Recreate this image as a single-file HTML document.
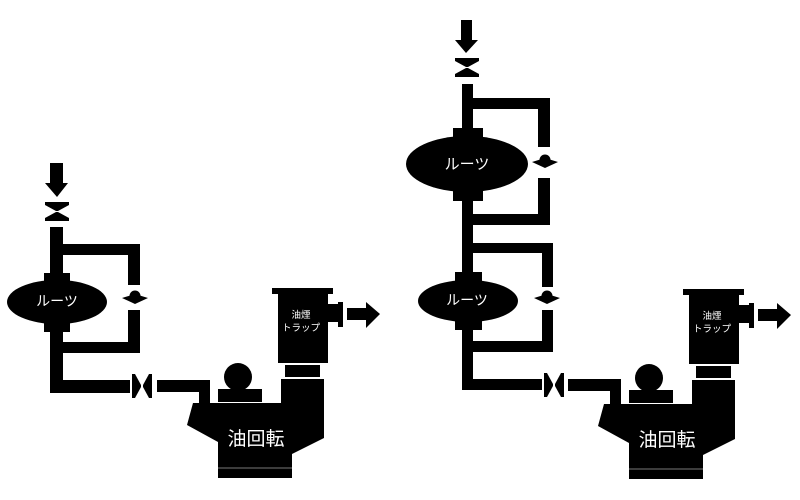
<!DOCTYPE html>
<html><head><meta charset="utf-8"><style>
html,body{margin:0;padding:0;background:#fff;width:800px;height:500px;overflow:hidden}
svg text{font-family:"Liberation Sans","Noto Sans CJK JP",sans-serif;fill:#fff;text-anchor:middle}
</style></head><body>
<svg width="800" height="500" viewBox="0 0 800 500" xmlns="http://www.w3.org/2000/svg">
<defs>
<g id="check"><circle cx="0" cy="-1" r="5.5" fill="#000"/><polygon points="-13,1 0,-3 13,1 0,7" fill="#000"/></g>
<g id="vvalve"><polygon points="-12,0 12,0 12,3 1,9 -1,9 -12,3" fill="#000"/><polygon points="-12,19 12,19 12,16 1,10 -1,10 -12,16" fill="#000"/></g>
<g id="hvalve"><polygon points="0,-12 0,12 3,12 9,1 9,-1 3,-12" fill="#000"/><polygon points="20,-12 20,12 17,12 11,1 11,-1 17,-12" fill="#000"/></g>
<g id="motor">
 <rect x="199" y="380" width="11" height="25" fill="#000"/>
 <circle cx="238" cy="377" r="14" fill="#000"/>
 <rect x="218" y="389" width="44" height="13" fill="#000"/>
 <rect x="285" y="365" width="35" height="12" fill="#000"/>
 <polygon points="193,403 281,403 281,379 324,379 324,438 292,454 292,478 218,478 218,442 187,425" fill="#000"/>
 <line x1="218" y1="468" x2="292" y2="468" stroke="#777" stroke-width="1"/>
 <text x="256" y="445" font-size="19">油回転</text>
 <rect x="272" y="288" width="61" height="6" fill="#000"/>
 <rect x="278" y="293" width="50" height="70" fill="#000"/>
 <rect x="327" y="304" width="13" height="18" fill="#000"/>
 <rect x="338" y="302" width="5" height="25" fill="#000"/>
 <rect x="347" y="308" width="20" height="12" fill="#000"/>
 <polygon points="366,302 380,314 366,328" fill="#000"/>
 <text x="301" y="318" font-size="9.5">油煙</text>
 <text x="301" y="331" font-size="9.5">トラップ</text>
</g>
</defs>

<!-- LEFT -->
<rect x="50" y="163" width="13" height="22" fill="#000"/>
<polygon points="45,183 68,183 57,197" fill="#000"/>
<use href="#vvalve" x="57" y="202"/>
<rect x="50" y="227" width="13" height="50" fill="#000"/>
<rect x="63" y="244" width="77" height="11" fill="#000"/>
<rect x="128" y="244" width="12" height="41" fill="#000"/>
<use href="#check" x="135" y="297"/>
<rect x="128" y="310" width="12" height="43" fill="#000"/>
<rect x="50" y="342" width="90" height="11" fill="#000"/>
<rect x="44" y="273" width="26" height="10" fill="#000"/>
<ellipse cx="57" cy="302" rx="50" ry="22" fill="#000"/>
<rect x="44" y="321" width="26" height="11" fill="#000"/>
<text x="57" y="306" font-size="14">ルーツ</text>
<rect x="50" y="330" width="13" height="63" fill="#000"/>
<rect x="50" y="380" width="80" height="13" fill="#000"/>
<use href="#hvalve" x="132" y="386"/>
<rect x="157" y="380" width="53" height="12" fill="#000"/>
<use href="#motor"/>

<!-- RIGHT -->
<rect x="461" y="20" width="11" height="21" fill="#000"/>
<polygon points="455,40 478,40 466,53" fill="#000"/>
<use href="#vvalve" x="467" y="58"/>
<rect x="462" y="84" width="11" height="50" fill="#000"/>
<rect x="473" y="98" width="77" height="11" fill="#000"/>
<rect x="538" y="98" width="12" height="49" fill="#000"/>
<use href="#check" x="545" y="161"/>
<rect x="538" y="178" width="12" height="47" fill="#000"/>
<rect x="462" y="214" width="88" height="11" fill="#000"/>
<rect x="453" y="128" width="30" height="11" fill="#000"/>
<ellipse cx="467" cy="164" rx="61" ry="28" fill="#000"/>
<rect x="453" y="189" width="30" height="12" fill="#000"/>
<text x="467" y="169" font-size="15">ルーツ</text>
<rect x="462" y="199" width="11" height="78" fill="#000"/>
<rect x="473" y="243" width="80" height="10" fill="#000"/>
<rect x="542" y="243" width="11" height="44" fill="#000"/>
<use href="#check" x="547" y="297"/>
<rect x="542" y="310" width="11" height="42" fill="#000"/>
<rect x="462" y="341" width="91" height="11" fill="#000"/>
<rect x="455" y="272" width="27" height="10" fill="#000"/>
<ellipse cx="468" cy="301" rx="50" ry="21" fill="#000"/>
<rect x="455" y="319" width="27" height="11" fill="#000"/>
<text x="467" y="305" font-size="14">ルーツ</text>
<rect x="462" y="328" width="11" height="62" fill="#000"/>
<rect x="462" y="379" width="80" height="11" fill="#000"/>
<use href="#hvalve" x="544" y="385"/>
<rect x="568" y="379" width="53" height="12" fill="#000"/>
<use href="#motor" transform="translate(411,1)"/>
</svg>
</body></html>
